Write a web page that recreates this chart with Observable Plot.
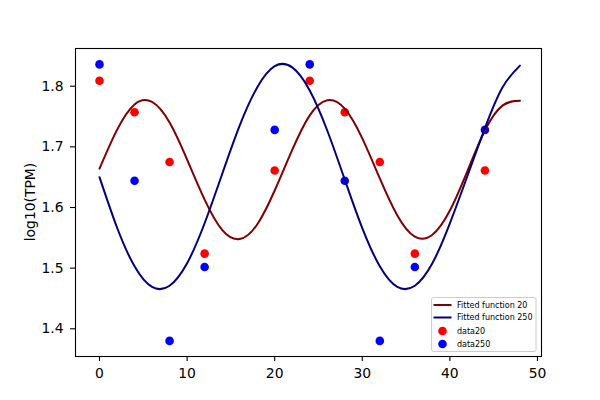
<!DOCTYPE html>
<html>
<head>
<meta charset="utf-8">
<script src="https://cdn.jsdelivr.net/npm/d3@7"></script>
<script src="https://cdn.jsdelivr.net/npm/@observablehq/plot@0.6"></script>
<style>
  html, body { margin: 0; padding: 0; background: #fff; }
</style>
</head>
<body>
<script>
// Measured sample times (data points)
const times = [0, 4, 8, 12, 20, 24, 28, 32, 36, 44];
const data20 = [1.809, 1.757, 1.675, 1.524, 1.661, 1.809, 1.757, 1.675, 1.524, 1.661];
const data250 = [1.836, 1.644, 1.380, 1.502, 1.728, 1.836, 1.644, 1.380, 1.502, 1.728];

// Fitted curves, values every 2 units
const fitX = [0, 2, 4, 6, 8, 10, 12, 14, 16, 18, 20, 22, 24, 26, 28, 30, 32, 34, 36, 38, 40, 42, 44, 46, 48];
const fit20 = [1.664, 1.728, 1.770, 1.774, 1.740, 1.679, 1.613, 1.563, 1.548, 1.572, 1.628, 1.695, 1.752, 1.777, 1.763, 1.714, 1.648, 1.587, 1.552, 1.555, 1.595, 1.660, 1.727, 1.768, 1.776];
const fit250 = [1.650, 1.567, 1.503, 1.469, 1.471, 1.508, 1.574, 1.655, 1.735, 1.798, 1.833, 1.831, 1.793, 1.727, 1.646, 1.566, 1.503, 1.469, 1.471, 1.508, 1.574, 1.652, 1.731, 1.798, 1.834];

const xTicks = [0, 10, 20, 30, 40, 50];
const yTicks = [1.4, 1.5, 1.6, 1.7, 1.8];

const pts20 = times.map((t, i) => ({t, v: data20[i]}));
const pts250 = times.map((t, i) => ({t, v: data250[i]}));
const line20 = fitX.map((t, i) => ({t, v: fit20[i]}));
const line250 = fitX.map((t, i) => ({t, v: fit250[i]}));

const W = 600, H = 400, ML = 75, MR = 59, MT = 48, MB = 44;

const svg = Plot.plot({
  width: W, height: H,
  marginLeft: ML, marginRight: MR, marginTop: MT, marginBottom: MB,
  style: {fontFamily: "DejaVu Sans", fontSize: "13.9px", color: "black", background: "white"},
  x: {domain: [-2.74, 50.46]},
  y: {domain: [1.3543, 1.8622]},
  marks: [
    Plot.dot(pts20, {x: "t", y: "v", r: 4.3, fill: "#ff0000", stroke: "none"}),
    Plot.dot(pts250, {x: "t", y: "v", r: 4.3, fill: "#0000ff", stroke: "none"}),
    Plot.line(line20, {x: "t", y: "v", stroke: "#800000", strokeWidth: 2, curve: "natural"}),
    Plot.line(line250, {x: "t", y: "v", stroke: "#000080", strokeWidth: 2, curve: "natural"}),
    Plot.frame({stroke: "black", strokeWidth: 1.1}),
    Plot.axisX({ticks: xTicks, tickFormat: d => String(d), tickSize: 5, tickPadding: 7, label: null, stroke: "black", strokeWidth: 1.1}),
    Plot.axisY({ticks: yTicks, tickFormat: d3.format(".1f"), tickSize: 5, tickPadding: 7, label: null, stroke: "black", strokeWidth: 1.1})
  ]
});
document.body.appendChild(svg);

const s = d3.select(svg);
// y-axis title
s.append("text")
  .attr("transform", `translate(35,${(MT + H - MB) / 2}) rotate(-90)`)
  .attr("text-anchor", "middle")
  .attr("font-family", "DejaVu Sans")
  .attr("font-size", "13.9px")
  .attr("fill", "black")
  .text("log10(TPM)");

// legend
const legendItems = [
  {label: "Fitted function 20", type: "line", color: "#800000"},
  {label: "Fitted function 250", type: "line", color: "#000080"},
  {label: "data20", type: "dot", color: "#ff0000"},
  {label: "data250", type: "dot", color: "#0000ff"}
];
const lg = s.append("g").attr("text-anchor", "start");
lg.append("rect")
  .attr("x", 431.5).attr("y", 297.5).attr("width", 104.5).attr("height", 54)
  .attr("rx", 2).attr("fill", "white").attr("fill-opacity", 0.8)
  .attr("stroke", "#cccccc").attr("stroke-width", 1);
const rowY = [305, 317.5, 331, 344];
legendItems.forEach((d, i) => {
  const y = rowY[i];
  if (d.type === "line") {
    lg.append("line").attr("x1", 433.5).attr("x2", 451.5).attr("y1", y).attr("y2", y)
      .attr("stroke", d.color).attr("stroke-width", 2);
  } else {
    lg.append("circle").attr("cx", 442.5).attr("cy", y).attr("r", 4.3).attr("fill", d.color);
  }
  lg.append("text").attr("x", 457).attr("y", y).attr("dy", "0.35em")
    .attr("text-anchor", "start")
    .attr("font-family", "DejaVu Sans").attr("font-size", "8px").attr("fill", "black")
    .text(d.label);
});
</script>
</body>
</html>
